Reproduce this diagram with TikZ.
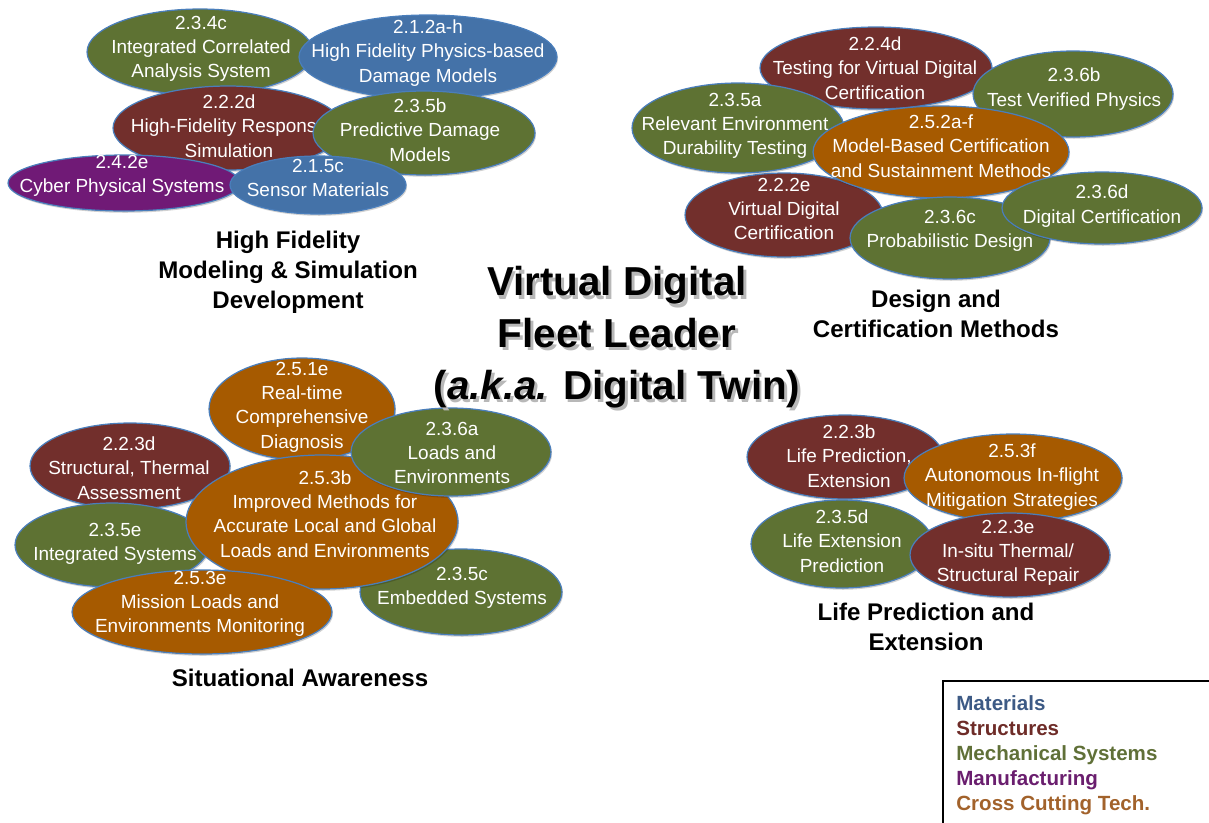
\documentclass[tikz,border=0pt]{standalone}
\usepackage{fontspec}
\setsansfont{Liberation Sans}
\usetikzlibrary{shapes.geometric, shadows}
\definecolor{Mat}{HTML}{4472A8}
\definecolor{Str}{HTML}{722F2C}
\definecolor{Mech}{HTML}{5E7233}
\definecolor{Manu}{HTML}{701A76}
\definecolor{Cross}{HTML}{A65A00}
\definecolor{Edge}{HTML}{4A7EBB}
\definecolor{MatKey}{HTML}{3D5A85}
\definecolor{StrKey}{HTML}{6E2C28}
\definecolor{MechKey}{HTML}{607038}
\definecolor{ManuKey}{HTML}{6A1E6E}
\definecolor{CrossKey}{HTML}{A2622B}
\newcommand\withshade[1]{\leavevmode\rlap{\kern1.6pt\raisebox{-1.8pt}{\textcolor{black!28}{#1}}}#1}

\begin{document}
\begin{tikzpicture}[
  x=0.02cm, y=-0.02cm,
  font=\sffamily,
  blob/.style n args={3}{ellipse, draw=Edge, line width=0.7pt, fill=#1, minimum width=#2, minimum height=#3, inner sep=0pt,
    drop shadow={shadow xshift=0.6pt, shadow yshift=-1pt, opacity=0.18, fill=black}},
  blobtxt/.style={text=white, align=center, inner sep=0pt, font=\sffamily\fontsize{10.8}{13.8}\selectfont},
  area/.style={align=center, inner sep=0pt, font=\sffamily\bfseries\fontsize{13.7}{17}\selectfont},
  headline/.style={align=center, inner sep=0pt, font=\sffamily\bfseries\fontsize{23}{29.5}\selectfont},
  key/.style={align=left, inner sep=0pt, font=\sffamily\bfseries\fontsize{11.7}{14.3}\selectfont}
]
\useasboundingbox (0,0) rectangle (1209,822);

% High fidelity modeling & simulation
\node[blob={Mech}{4.52cm}{1.72cm}] (m234c) at (200,52) {};
\node[blobtxt] (m234c-t) at (201,49) {2.3.4c\\Integrated Correlated\\Analysis System};
\node[blob={Mat}{5.16cm}{1.68cm}] (a212) at (428,57) {};
\node[blobtxt] (a212-t) at (428,53) {2.1.2a-h\\High Fidelity Physics-based\\Damage Models};
\node[blob={Str}{4.60cm}{1.68cm}] (s222d) at (228,128) {};
\node[blobtxt] (s222d-t) at (229,126) {2.2.2d\\High-Fidelity Response\\Simulation};
\node[blob={Mech}{4.44cm}{1.68cm}] (m235b) at (424,133) {};
\node[blobtxt] (m235b-t) at (420,130) {2.3.5b\\Predictive Damage\\Models};
\node[blob={Manu}{4.64cm}{1.12cm}] (f242e) at (124,183) {};
\node[blobtxt] (f242e-t) at (122,176) {2.4.2e\\Cyber Physical Systems};
\node[blob={Mat}{3.52cm}{1.16cm}] (a215c) at (318,185) {};
\node[blobtxt] (a215c-t) at (318,178) {2.1.5c\\Sensor Materials};
\node[area] (hifi) at (288,272) {High Fidelity\\Modeling \& Simulation\\Development};

% Design and certification
\node[blob={Str}{4.64cm}{1.64cm}] (s224d) at (876,68) {};
\node[blobtxt] (s224d-t) at (875,68) {2.2.4d\\Testing for Virtual Digital\\Certification};
\node[blob={Mech}{4.00cm}{1.72cm}] (m236b) at (1073,94) {};
\node[blobtxt] (m236b-t) at (1074,89) {2.3.6b\\Test Verified Physics};
\node[blob={Mech}{4.24cm}{1.80cm}] (m235a) at (738,128) {};
\node[blobtxt] (m235a-t) at (735,126) {2.3.5a\\Relevant Environment\\Durability Testing};
\node[blob={Str}{3.96cm}{1.68cm}] (s222e) at (784,215) {};
\node[blobtxt] (s222e-t) at (784,209) {2.2.2e\\Virtual Digital\\Certification};
\node[blob={Cross}{5.12cm}{1.84cm}] (c252) at (941,152) {};
\node[blobtxt] (c252-t) at (941,146) {2.5.2a-f\\Model-Based Certification\\and Sustainment Methods};
\node[blob={Mech}{4.00cm}{1.64cm}] (m236c) at (950,238) {};
\node[blobtxt] (m236c-t) at (950,231) {2.3.6c\\Probabilistic Design};
\node[blob={Mech}{4.00cm}{1.44cm}] (m236d) at (1102,208) {};
\node[blobtxt] (m236d-t) at (1102,206) {2.3.6d\\Digital Certification};
\node[area] (cert) at (936,314) {Design and\\Certification Methods};

% Situational awareness
\node[blob={Cross}{3.72cm}{2.04cm}] (c251e) at (302,409) {};
\node[blobtxt] (c251e-t) at (302,407) {2.5.1e\\Real-time\\Comprehensive\\Diagnosis};
\node[blob={Str}{4.00cm}{1.72cm}] (s223d) at (130,466) {};
\node[blobtxt] (s223d-t) at (129,468) {2.2.3d\\Structural, Thermal\\Assessment};
\node[blob={Mech}{3.88cm}{1.68cm}] (m235e) at (112,545) {};
\node[blobtxt] (m235e-t) at (115,544) {2.3.5e\\Integrated Systems};
\node[blob={Mech}{4.04cm}{1.72cm}] (m235c) at (461,592) {};
\node[blobtxt] (m235c-t) at (462,588) {2.3.5c\\Embedded Systems};
\node[blob={Cross}{5.44cm}{2.68cm}] (c253b) at (322,522) {};
\node[blobtxt] (c253b-t) at (325,514) {2.5.3b\\Improved Methods for\\Accurate Local and Global\\Loads and Environments};
\node[blob={Mech}{4.00cm}{1.76cm}] (m236a) at (451,452) {};
\node[blobtxt] (m236a-t) at (452,453) {2.3.6a\\Loads and\\Environments};
\node[blob={Cross}{5.20cm}{1.68cm}] (c253e) at (202,612) {};
\node[blobtxt] (c253e-t) at (200,604) {2.5.3e\\Mission Loads and\\Environments Monitoring};
\node[area] (aware) at (300,678) {Situational Awareness};

% Life prediction and extension
\node[blob={Str}{3.92cm}{1.68cm}] (s223b) at (845,457) {};
\node[blobtxt] (s223b-t) at (849,456) {2.2.3b\\Life Prediction,\\Extension};
\node[blob={Cross}{4.36cm}{1.76cm}] (c253f) at (1013,478) {};
\node[blobtxt] (c253f-t) at (1012,477) {2.5.3f\\Autonomous In-flight\\Mitigation Strategies};
\node[blob={Mech}{3.64cm}{1.76cm}] (m235d) at (842,544) {};
\node[blobtxt] (m235d-t) at (842,541) {2.3.5d\\Life Extension\\Prediction};
\node[blob={Str}{4.00cm}{1.68cm}] (s223e) at (1010,555) {};
\node[blobtxt] (s223e-t) at (1008,553) {2.2.3e\\In-situ Thermal/\\Structural Repair};
\node[area] (life) at (926,627) {Life Prediction and\\Extension};

% centre title
\node[headline] (title) at (617,339) {\withshade{Virtual Digital}\\\withshade{Fleet Leader}\\\withshade{(\textit{a.k.a.} Digital Twin)}};

% legend
\draw[line width=0.7pt] (943,681) rectangle (1240,850);
\node[key, anchor=north west] (legend) at (956,695) {\textcolor{MatKey}{Materials}\\\textcolor{StrKey}{Structures}\\\textcolor{MechKey}{Mechanical Systems}\\\textcolor{ManuKey}{Manufacturing}\\\textcolor{CrossKey}{Cross Cutting Tech.}};
\end{tikzpicture}
\end{document}
